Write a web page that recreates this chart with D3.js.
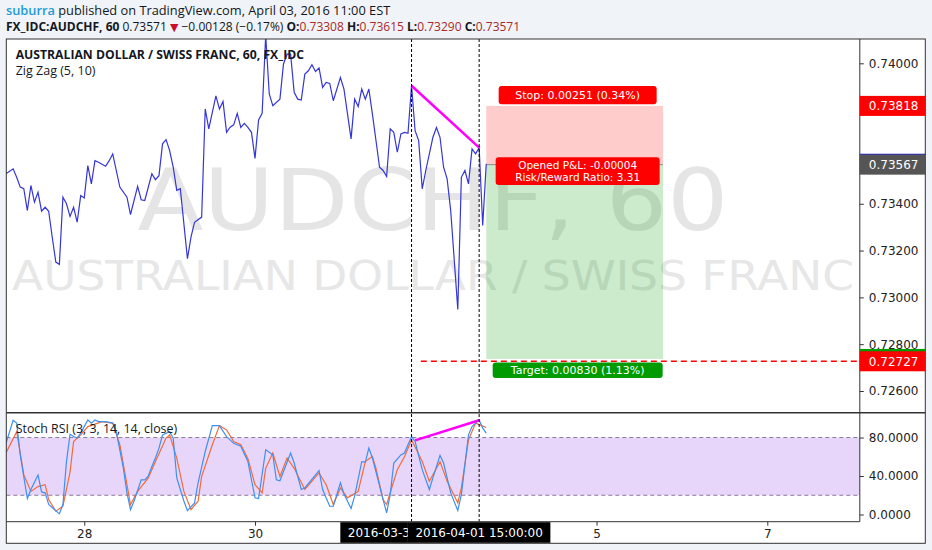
<!DOCTYPE html>
<html>
<head>
<meta charset="utf-8">
<script src="https://cdn.jsdelivr.net/npm/d3@7"></script>
<style>
  body { margin: 0; background: #f0f3f8; }
  svg { display: block; }
</style>
</head>
<body>
<div id="chart"></div>
<script>
// hourly closes, bar 0 = first visible hour (one bar = 60 min, weekends skipped)
const priceBars = [0, 2, 3, 4, 5, 6, 7, 8, 9, 10, 11, 12, 13, 14, 15, 16, 17, 18, 19, 20,
  21, 22, 23, 24, 25, 26, 28, 29, 30, 32, 34, 35, 37, 38, 39, 41, 42, 43, 44, 45,
  46, 47, 48, 49, 51, 52, 53, 55, 56, 57, 59, 60, 61, 62, 63, 64, 65, 66, 67, 68,
  69, 70, 71, 72, 73, 74, 75, 77, 78, 79, 80, 81, 82, 83, 84, 85, 86, 87, 88, 89,
  90, 91, 92, 94, 95, 97, 98, 99, 100, 101, 102, 103, 104, 105, 106, 107, 108, 109, 110, 111,
  112, 113, 114, 115, 116, 117, 118, 120, 121, 122, 123, 124, 125, 127, 128, 129, 130, 131, 132, 133,
  134, 135];
const priceClose = [0.73528, 0.73549, 0.73513, 0.73471, 0.73464, 0.73371, 0.73478, 0.73407, 0.73449, 0.73368,
  0.73385, 0.73368, 0.73257, 0.73151, 0.73141, 0.73428, 0.73400, 0.73346, 0.73385, 0.73321,
  0.73435, 0.73425, 0.73563, 0.73485, 0.73584, 0.73577, 0.73560, 0.73584, 0.73613, 0.73471,
  0.73428, 0.73354, 0.73474, 0.73417, 0.73414, 0.73528, 0.73503, 0.73520, 0.73656, 0.73674,
  0.73627, 0.73556, 0.73457, 0.73464, 0.73165, 0.73257, 0.73321, 0.73343, 0.73805, 0.73720,
  0.73861, 0.73805, 0.73837, 0.73705, 0.73727, 0.73737, 0.73786, 0.73726, 0.73743, 0.73726,
  0.73705, 0.73594, 0.73758, 0.73786, 0.74120, 0.73869, 0.73819, 0.73847, 0.73997, 0.74039,
  0.74039, 0.73876, 0.73847, 0.73843, 0.73954, 0.73968, 0.73994, 0.73965, 0.73980, 0.73897,
  0.73918, 0.73914, 0.73840, 0.73939, 0.73890, 0.73677, 0.73847, 0.73815, 0.73890, 0.73847,
  0.73890, 0.73783, 0.73670, 0.73556, 0.73542, 0.73516, 0.73720, 0.73705, 0.73620, 0.73698,
  0.73705, 0.73701, 0.73904, 0.73712, 0.73670, 0.73464, 0.73542, 0.73684, 0.73726, 0.73684,
  0.73556, 0.73506, 0.73371, 0.72948, 0.73513, 0.73542, 0.73485, 0.73634, 0.73613, 0.73640,
  0.73307, 0.73571];

// Stoch RSI %K (blue) and %D (orange)
const kBars = [0, 2, 3, 4, 6, 7, 9, 10, 11, 12, 15, 16, 17, 18, 19, 20, 21, 23, 24, 25,
  26, 28, 30, 31, 33, 34, 35, 36, 38, 39, 40, 41, 42, 43, 44, 46, 47, 48, 50, 51,
  53, 54, 56, 58, 60, 62, 64, 66, 68, 70, 71, 73, 75, 76, 77, 80, 81, 83, 84, 88,
  89, 91, 92, 94, 95, 97, 98, 100, 101, 102, 103, 106, 107, 108, 109, 111, 112, 114, 115, 117,
  119, 120, 122, 123, 125, 127, 128, 130, 131, 133, 134, 135];
const kValues = [74, 98, 95, 62, 16.6, 26, 41, 23.5, 22.5, 10.4, 0.7, 10.4, 55, 83.5, 81, 79.4, 84.6, 98.3, 95, 98.3,
  96.6, 96.6, 95, 86, 48, 22.5, 5, 14, 36, 36, 40, 50, 58.7, 69, 82.8, 86, 79.4, 38, 14, 4,
  12, 33, 65.5, 92.4, 92.4, 81, 74, 71, 55, 17.3, 16.6, 67.3, 62, 36, 35, 63.9, 53.5, 26, 27.6, 45.5,
  26, 8.6, 8.6, 33, 21.4, 6.2, 19, 55, 54.5, 69, 58.7, 15.5, 1.8, 20.7, 53.5, 62, 63.9, 81, 75.9, 46.6,
  26, 38, 61.4, 53.5, 22.5, 4.1, 20.7, 82.8, 91.4, 98.3, 89.8, 84.6];
const dBars = [0, 3, 5, 7, 9, 11, 12, 14, 16, 18, 19, 21, 23, 25, 27, 30, 32, 34, 35, 37,
  40, 42, 45, 46, 48, 50, 52, 54, 55, 58, 60, 62, 64, 66, 68, 70, 72, 73, 75, 77,
  79, 81, 84, 88, 90, 92, 94, 96, 99, 101, 103, 104, 106, 107, 110, 112, 114, 117, 119, 122,
  124, 127, 128, 130, 132, 135];
const dValues = [64, 86, 41.4, 24, 29, 31, 15.5, 3.4, 8.6, 44, 75.9, 82.8, 91.4, 93.9, 96.6, 95, 72.5, 31, 10.4, 24,
  38, 55, 79.4, 82.8, 58.7, 24, 5.2, 13.8, 39.6, 72.5, 92.4, 88, 75.9, 72.5, 58, 31, 22.5, 48, 63.9, 39.6,
  58.7, 48, 26, 43.2, 31, 10.4, 27.6, 17.3, 24, 55, 60.4, 48, 15.5, 10.4, 46.6, 60, 77.6, 55, 34.5, 55,
  34.5, 12, 27.6, 77.6, 95, 90.4];

// axes
const priceTicks = [0.726, 0.728, 0.730, 0.732, 0.734, 0.736, 0.738, 0.740];
const stochTicks = [0, 40, 80];
const stochBand = [20, 80];
const dayTicks = [22, 70, 166, 214];
const dayLabels = ["28", "30", "5", "7"];
const markerBars = [114, 133];
const markerLabels = ["2016-03-31 20:00:00", "2016-04-01 15:00:00"];

// drawings
const zigzagBars = [114, 133];
const zigzagPrices = [0.73904, 0.73640];
const stochTrendBars = [115, 133];
const stochTrendValues = [77, 98];
const positionBars = [135, 184.7];
const entryPrice = 0.73567;
const stopPrice = 0.73818;
const targetPrice = 0.72737;
const targetLinePrice = 0.72727;
const targetLineBar = 116.6;
const lastPrice = 0.73571;
const openPnl = "-0.00004";
const riskReward = "3.31";

// header
const symbolName = "FX_IDC:AUDCHF, 60";
const ohlcLabels = ["O", "H", "L", "C"];
const ohlcValues = ["0.73308", "0.73615", "0.73290", "0.73571"];
const changeText = "\u22120.00128 (\u22120.17%)";

// Set up dimensions
const width = 932;
const height = 550;
const frameL = 6.3, frameT = 39, frameR = 925.3, frameB = 543.3;
const plotR = 859.8, priceB = 412.7, stochB = 521.7;
const axisFont = "DejaVu Sans";
const uiFont = "'Open Sans', sans-serif";

const x = d3.scaleLinear().domain([0, 240]).range([6, plotR]);
const yPrice = d3.scaleLinear().domain([0.726, 0.74]).range([391, 63.3]);
const yStoch = d3.scaleLinear().domain([0, 100]).range([514.5, 418.3]);

const svg = d3.select("#chart").append("svg")
  .attr("width", width)
  .attr("height", height);

svg.append("rect").attr("width", width).attr("height", height).attr("fill", "#f0f3f8");
svg.append("rect")
  .attr("x", frameL).attr("y", frameT)
  .attr("width", frameR - frameL).attr("height", frameB - frameT)
  .attr("fill", "#fff");

// clip paths for the two panes
const defs = svg.append("defs");
defs.append("clipPath").attr("id", "clipPrice").append("rect")
  .attr("x", frameL).attr("y", frameT).attr("width", plotR - frameL).attr("height", priceB - frameT);
defs.append("clipPath").attr("id", "clipStoch").append("rect")
  .attr("x", frameL).attr("y", priceB).attr("width", plotR - frameL).attr("height", stochB - priceB);

const pricePane = svg.append("g").attr("clip-path", "url(#clipPrice)");
const stochPane = svg.append("g").attr("clip-path", "url(#clipStoch)");

// Watermark
const midX = (frameL + plotR) / 2;
pricePane.append("text")
  .attr("x", midX).attr("y", 230)
  .attr("text-anchor", "middle")
  .attr("font-family", axisFont).attr("font-size", 86)
  .attr("textLength", 591).attr("lengthAdjust", "spacingAndGlyphs")
  .attr("fill", "#e5e5e5")
  .text("AUDCHF, 60");
pricePane.append("text")
  .attr("x", midX).attr("y", 290)
  .attr("text-anchor", "middle")
  .attr("font-family", axisFont).attr("font-size", 40)
  .attr("textLength", 842).attr("lengthAdjust", "spacingAndGlyphs")
  .attr("fill", "#e7e7e7")
  .text("AUSTRALIAN DOLLAR / SWISS FRANC");

// Stoch band and levels
stochPane.append("rect")
  .attr("x", frameL).attr("width", plotR - frameL)
  .attr("y", yStoch(stochBand[1]))
  .attr("height", yStoch(stochBand[0]) - yStoch(stochBand[1]))
  .attr("fill", "#e8d6fa");
stochPane.selectAll(".level").data(stochBand).enter().append("line")
  .attr("x1", frameL).attr("x2", plotR)
  .attr("y1", (d) => yStoch(d)).attr("y2", (d) => yStoch(d))
  .attr("stroke", "#8a7a9a").attr("stroke-dasharray", "4,3");

// Short position tool
const px0 = x(positionBars[0]), px1 = x(positionBars[1]);
pricePane.append("rect")
  .attr("x", px0).attr("width", px1 - px0)
  .attr("y", yPrice(stopPrice)).attr("height", yPrice(entryPrice) - yPrice(stopPrice))
  .attr("fill", "rgba(255,0,0,0.2)");
pricePane.append("rect")
  .attr("x", px0).attr("width", px1 - px0)
  .attr("y", yPrice(entryPrice)).attr("height", yPrice(targetPrice) - yPrice(entryPrice))
  .attr("fill", "rgba(0,150,0,0.2)");
pricePane.append("line")
  .attr("x1", px0).attr("x2", px1)
  .attr("y1", yPrice(entryPrice)).attr("y2", yPrice(entryPrice))
  .attr("stroke", "#8a8a8a");

// Vertical markers
svg.selectAll(".marker").data(markerBars).enter().append("line")
  .attr("x1", (d) => x(d)).attr("x2", (d) => x(d))
  .attr("y1", frameT).attr("y2", stochB)
  .attr("stroke", "#000").attr("stroke-dasharray", "3,2");

// Price line
const priceData = priceBars.map((b, i) => [b, priceClose[i]]);
const priceLine = d3.line().x((d) => x(d[0])).y((d) => yPrice(d[1]));
pricePane.append("path")
  .attr("d", priceLine(priceData))
  .attr("fill", "none").attr("stroke", "#3535d8").attr("stroke-width", 1.2);

// Zig zag
pricePane.append("path")
  .attr("d", priceLine(zigzagBars.map((b, i) => [b, zigzagPrices[i]])))
  .attr("stroke", "#f0f").attr("stroke-width", 2.5).attr("fill", "none");

// Target line
pricePane.append("line")
  .attr("x1", x(targetLineBar)).attr("x2", plotR)
  .attr("y1", yPrice(targetLinePrice)).attr("y2", yPrice(targetLinePrice))
  .attr("stroke", "#f00").attr("stroke-width", 1.5).attr("stroke-dasharray", "6,4");

// Stoch lines
const stochLine = d3.line().x((d) => x(d[0])).y((d) => yStoch(d[1]));
stochPane.append("path")
  .attr("d", stochLine(dBars.map((b, i) => [b, dValues[i]])))
  .attr("fill", "none").attr("stroke", "#f26b3a").attr("stroke-width", 1.2);
stochPane.append("path")
  .attr("d", stochLine(kBars.map((b, i) => [b, kValues[i]])))
  .attr("fill", "none").attr("stroke", "#3f8fef").attr("stroke-width", 1.2);
stochPane.append("path")
  .attr("d", stochLine(stochTrendBars.map((b, i) => [b, stochTrendValues[i]])))
  .attr("stroke", "#f0f").attr("stroke-width", 2.5).attr("fill", "none");

// Labels on the position tool
const fmt5 = d3.format(".5f");
const pct = (v) => d3.format(".2f")(Math.abs(v) / entryPrice * 100) + "%";
function tag(cx, top, lines, fill, boxW, boxH, size, gap) {
  const g = svg.append("g");
  g.append("rect")
    .attr("x", cx - boxW / 2).attr("y", top).attr("width", boxW).attr("height", boxH)
    .attr("rx", 3).attr("fill", fill);
  lines.forEach((t, i) => {
    g.append("text")
      .attr("x", cx).attr("y", top + boxH / 2 + (i - (lines.length - 1) / 2) * gap + size * 0.36)
      .attr("text-anchor", "middle")
      .attr("font-family", axisFont).attr("font-size", size)
      .attr("fill", "#fff").text(t);
  });
}
const tagX = (px0 + px1) / 2 + 3;
tag(tagX, yPrice(stopPrice) - 20, [`Stop: ${fmt5(stopPrice - entryPrice)} (${pct(stopPrice - entryPrice)})`], "#ff0000", 158, 18.3, 11, 0);
tag(tagX, yPrice(entryPrice) - 7.4, [`Opened P&L: ${openPnl}`, `Risk/Reward Ratio: ${riskReward}`], "#ff0000", 164, 27.7, 10.5, 12.4);
tag(tagX, yPrice(targetPrice) + 3.6, [`Target: ${fmt5(entryPrice - targetPrice)} (${pct(entryPrice - targetPrice)})`], "#009b00", 170, 15.4, 11, 0);

// Legends
svg.append("text").attr("x", 15.7).attr("y", 59)
  .attr("font-family", uiFont).attr("font-size", 12.2).attr("font-weight", "bold")
  .attr("fill", "#131722").text("AUSTRALIAN DOLLAR / SWISS FRANC, 60, FX_IDC");
svg.append("text").attr("x", 15.7).attr("y", 75)
  .attr("font-family", uiFont).attr("font-size", 12.5)
  .attr("fill", "#131722").text("Zig Zag (5, 10)");
svg.append("text").attr("x", 15.7).attr("y", 433)
  .attr("font-family", uiFont).attr("font-size", 12.4)
  .attr("fill", "#131722").text("Stoch RSI (3, 3, 14, 14, close)");

// Frame lines
const frame = svg.append("g").attr("stroke", "#333").attr("fill", "none");
frame.append("rect").attr("x", frameL).attr("y", frameT)
  .attr("width", frameR - frameL).attr("height", frameB - frameT);
frame.append("line").attr("x1", plotR).attr("x2", plotR).attr("y1", frameT).attr("y2", stochB);
frame.append("line").attr("x1", frameL).attr("x2", frameR).attr("y1", priceB).attr("y2", priceB).attr("stroke-width", 1.5);
frame.append("line").attr("x1", frameL).attr("x2", plotR).attr("y1", stochB).attr("y2", stochB);

// Price axis (ticks hidden under price labels are skipped)
const labelPrices = [stopPrice, lastPrice, entryPrice, targetPrice, targetLinePrice];
const labelColors = ["#ff0000", "#2b2bc8", "#555555", "#009b00", "#ff0000"];
const labelShown = [true, false, true, false, true]; // last price and target tags sit behind the others
const visibleTicks = priceTicks.filter((t) =>
  labelPrices.every((p) => Math.abs(yPrice(p) - yPrice(t)) > 13));
const priceAxis = svg.append("g")
  .attr("transform", `translate(${plotR},0)`)
  .call(d3.axisRight(yPrice).tickValues(visibleTicks).tickFormat(fmt5).tickSize(4).tickPadding(5));
const stochAxis = svg.append("g")
  .attr("transform", `translate(${plotR},0)`)
  .call(d3.axisRight(yStoch).tickValues(stochTicks).tickFormat(d3.format(".4f")).tickSize(4).tickPadding(5));
[priceAxis, stochAxis].forEach((a) => {
  a.select(".domain").remove();
  a.selectAll("text").attr("font-family", axisFont).attr("font-size", 12).attr("fill", "#222");
  a.selectAll("line").attr("stroke", "#333");
});

// Price labels on the axis
const axisTags = svg.append("g");
labelPrices.forEach((p, i) => {
  axisTags.append("rect")
    .attr("x", plotR).attr("y", yPrice(p) - 10).attr("width", frameR - plotR).attr("height", 20)
    .attr("fill", labelColors[i]);
  if (!labelShown[i]) return;
  axisTags.append("text")
    .attr("x", plotR + 9).attr("y", yPrice(p) + 4.3)
    .attr("font-family", axisFont).attr("font-size", 12)
    .attr("fill", "#fff").text(fmt5(p));
});

// Time axis
const timeAxis = svg.append("g")
  .attr("transform", `translate(0,${stochB})`)
  .call(d3.axisBottom(x).tickValues(dayTicks).tickFormat((d, i) => dayLabels[i]).tickSize(4).tickPadding(4));
timeAxis.select(".domain").remove();
timeAxis.selectAll("text").attr("font-family", axisFont).attr("font-size", 12).attr("fill", "#222");
timeAxis.selectAll("line").attr("stroke", "#333");

// Crosshair date boxes (the later box covers the end of the earlier one)
const boxW = markerLabels.map(() => 0);
markerBars.forEach((b, i) => {
  const next = markerBars[i + 1];
  const g = svg.append("g");
  const t = g.append("text")
    .attr("x", x(b)).attr("y", stochB + 15.5)
    .attr("text-anchor", "middle")
    .attr("font-family", axisFont).attr("font-size", 12)
    .attr("fill", "#fff").text(markerLabels[i]);
  const w = t.node().getComputedTextLength() + 15;
  boxW[i] = w;
  g.insert("rect", "text")
    .attr("x", x(b) - w / 2).attr("y", stochB + 0.5).attr("width", w).attr("height", frameB - stochB - 1)
    .attr("fill", "#000");
  if (next !== undefined) {
    const cut = x(next) - w / 2;
    defs.append("clipPath").attr("id", "clipDate" + i).append("rect")
      .attr("x", 0).attr("y", stochB).attr("width", cut).attr("height", frameB - stochB);
    g.attr("clip-path", `url(#clipDate${i})`);
  }
});

// Header
svg.append("text").attr("x", 6).attr("y", 15)
  .attr("font-family", uiFont).attr("font-size", 12.8).attr("fill", "#131722")
  .call((t) => {
    t.append("tspan").attr("fill", "#1e9bd7").attr("font-weight", 600).text("suburra");
    t.append("tspan").text(" published on TradingView.com, April 03, 2016 11:00 EST");
  });
const head = svg.append("text").attr("x", 6).attr("y", 30.5)
  .attr("font-family", uiFont).attr("font-size", 12).attr("fill", "#131722");
head.append("tspan").attr("font-weight", "bold").text(symbolName);
head.append("tspan").text(" " + lastPrice.toFixed(5) + " ");
head.append("tspan").attr("fill", "#c8102e").attr("font-family", axisFont).attr("font-size", 11).text("\u25BC");
head.append("tspan").text(" " + changeText + " ");
ohlcLabels.forEach((l, i) => {
  head.append("tspan").attr("font-weight", "bold").text((i ? " " : "") + l + ":");
  head.append("tspan").attr("fill", "#a82a2a").text(ohlcValues[i]);
});
</script>
</body>
</html>
